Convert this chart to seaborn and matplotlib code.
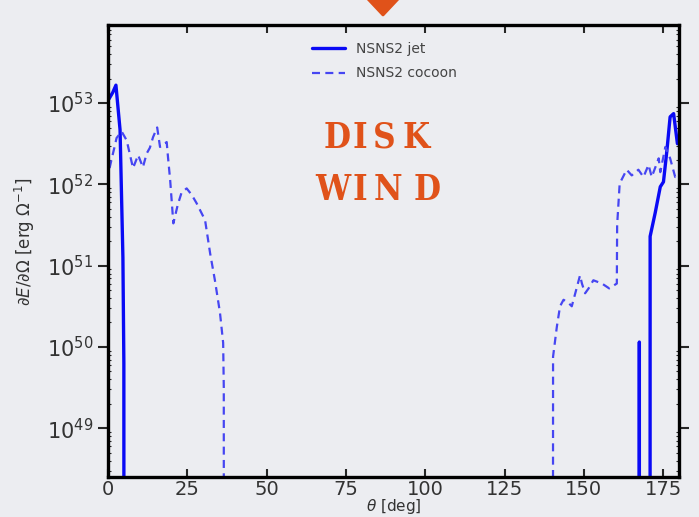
import numpy as np
import pandas as pd
import matplotlib
matplotlib.use("Agg")
import matplotlib.pyplot as plt
from matplotlib.patches import Polygon
import seaborn as sns

# theta [deg] and log10(dE/dOmega)
# (values of 40 mean "off the bottom of the plot")
theta_jet = [0.3, 1.5, 2.5, 3.8, 4.7, 5.0, 5.05,
             167.45, 167.5, 167.55, 170.85, 170.9,
             172.5, 174.1, 175.1, 176.2, 177.2, 178.3, 179.5]
logE_jet = [53.05, 53.13, 53.22, 52.67, 51.1, 49.8, 40,
            40, 50.06, 40, 40, 51.36,
            51.65, 51.97, 52.03, 52.42, 52.83, 52.87, 52.5]

theta_cocoon = [0.5, 1.2, 2.0, 2.7, 4.3, 5.9, 7.0, 7.9, 9.5, 11.0, 12.2, 13.2,
                14.2, 15.5, 15.8, 16.4, 18.5, 18.9, 19.6, 20.6, 22.0, 23.2,
                24.8, 26.4, 27.9, 30.6, 32.2, 33.7, 35.3, 36.3, 36.5, 36.55,
                140.2, 140.3, 141.5, 142.5, 143.6, 145.2, 146.2, 147.3, 148.8,
                149.4, 150.4, 151.5, 153.0, 155.7, 158.0, 160.4, 160.5, 161.3,
                163.5, 165.1, 167.2, 168.8, 170.4, 171.4, 173.6, 174.1, 175.7,
                177.2, 178.8, 180.0]
logE_cocoon = [52.2, 52.32, 52.45, 52.57, 52.65, 52.54, 52.35, 52.2, 52.36, 52.21, 52.38, 52.45,
               52.58, 52.7, 52.62, 52.46, 52.52, 52.34, 52.05, 51.52, 51.75, 51.9,
               51.95, 51.87, 51.77, 51.56, 51.15, 50.82, 50.42, 50.05, 49.5, 40,
               40, 49.88, 50.25, 50.5, 50.58, 50.54, 50.5, 50.66, 50.88,
               50.78, 50.66, 50.72, 50.82, 50.78, 50.72, 50.78, 51.5, 52.01,
               52.18, 52.11, 52.18, 52.09, 52.24, 52.09, 52.32, 52.15, 52.46,
               52.32, 52.09, 52.1]

labels = ["NSNS2 jet", "NSNS2 cocoon"]
xticks = [0, 25, 50, 75, 100, 125, 150, 175]
yticks = [1e49, 1e50, 1e51, 1e52, 1e53]

bg = "#ecedf1"
orange = "#e0521a"

sns.set_style("ticks", rc={"axes.facecolor": bg, "figure.facecolor": bg})
plt.rcParams["font.family"] = ["DejaVu Sans"]

jet = pd.DataFrame({"theta": theta_jet, "E": 10 ** np.array(logE_jet)})
cocoon = pd.DataFrame({"theta": theta_cocoon, "E": 10 ** np.array(logE_cocoon)})

fig = plt.figure(figsize=(6.99, 5.17), dpi=100)
ax = fig.add_axes([108 / 699, 1 - 477 / 517, 571 / 699, 452 / 517])

sns.lineplot(data=jet, x="theta", y="E", ax=ax, color="#0a0af5", lw=2.4,
             estimator=None, sort=False, label=labels[0])
sns.lineplot(data=cocoon, x="theta", y="E", ax=ax, color="#4646f2", lw=1.6,
             estimator=None, sort=False, label=labels[1])
ax.lines[1].set_dashes((3.6, 2.4))

ax.set_yscale("log")
ax.set_xlim(0, 180)
ax.set_ylim(10 ** 48.4, 10 ** 53.96)
ax.set_xticks(xticks)
ax.set_yticks(yticks)

for s in ax.spines.values():
    s.set_linewidth(2.4)
    s.set_color("black")
    s.set_visible(True)

ax.tick_params(axis="x", which="major", direction="in", top=True, bottom=True,
               length=6, width=1.5, labelsize=14, labelcolor="#333333", pad=2)
ax.tick_params(axis="y", which="major", direction="out", left=True, right=True,
               length=7, width=1.5, labelsize=15, labelcolor="#333333")
ax.tick_params(axis="y", which="minor", direction="in", left=True, right=True,
               length=2.5, width=0.8)

ax.set_xlabel(r"$\theta$ [deg]", fontsize=11, color="#333333")
ax.xaxis.label.set_va("top")
ax.xaxis.set_label_coords(0.5, -0.044)
ax.set_ylabel(r"$\partial E/\partial\Omega$ [erg $\Omega^{-1}$]", fontsize=12, color="#333333")
ax.yaxis.label.set_va("center")
ax.yaxis.set_label_coords(-0.145, 0.52)

leg = ax.legend(loc="upper left", bbox_to_anchor=(0.335, 0.99), frameon=False,
                fontsize=10, handlelength=2.4, labelspacing=0.75, handletextpad=0.8)
for t in leg.get_texts():
    t.set_color("#444444")

# "DISK WIND" overlay, letter by letter for the wide spacing
for row, yc in [(("D", 337), ("I", 360), ("S", 384), ("K", 416)), 137.5], \
               [(("W", 333), ("I", 360), ("N", 388), ("D", 427)), 189.5]:
    for ch, xc in row:
        fig.text(xc / 699, 1 - yc / 517, ch, ha="center", va="center",
                 fontsize=25, fontweight="bold", color=orange,
                 family="DejaVu Serif", fontstretch="condensed")

# orange arrow at the top
tri = Polygon([(367 / 699, 1 + 2 / 517), (399 / 699, 1 + 2 / 517), (383 / 699, 1 - 15 / 517)],
              closed=True, transform=fig.transFigure, facecolor=orange,
              edgecolor=orange, lw=2, joinstyle="round")
fig.patches.append(tri)

fig.savefig("out.png", dpi=100, facecolor=bg)
